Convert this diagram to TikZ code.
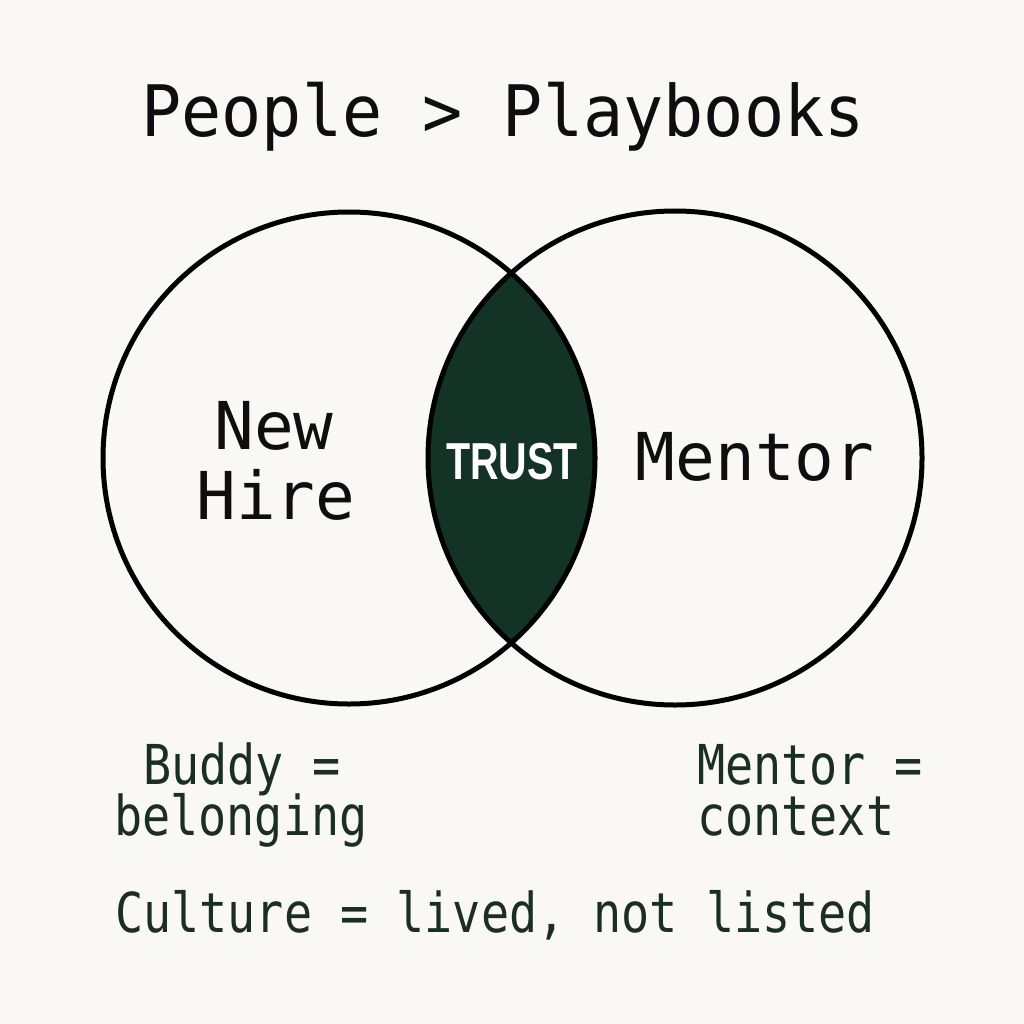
\documentclass[tikz,border=0pt]{standalone}
\usepackage{fontspec}
\newfontfamily\monofont{DejaVu Sans Mono}
\newfontfamily\condmono[FakeStretch=0.85]{DejaVu Sans Mono}
\newfontfamily\titlemono[FakeStretch=0.94]{DejaVu Sans Mono}
\newfontfamily\trustfont[FakeStretch=0.76]{Liberation Sans}
\definecolor{bg}{HTML}{F9F8F4}
\definecolor{lens}{HTML}{133326}
\definecolor{note}{HTML}{1B2E25}
\definecolor{ink}{HTML}{0E0E0E}
\tikzset{
  ring/.style={draw=black, line width=5pt},
  titletext/.style={anchor=base, inner sep=0pt, text=ink, font=\titlemono\fontsize{71}{71}\selectfont},
  labeltext/.style={anchor=base, inner sep=0pt, text=ink, font=\monofont\fontsize{66}{66}\selectfont},
  trusttext/.style={anchor=base, inner sep=0pt, text=white, font=\trustfont\bfseries\fontsize{52}{52}\selectfont},
  notetext/.style={anchor=base west, inner sep=0pt, text=note, font=\condmono\fontsize{55}{55}\selectfont},
}
\begin{document}
\begin{tikzpicture}[x=1pt,y=-1pt]
\fill[bg] (0,0) rectangle (1024,1024);
\useasboundingbox (0,0) rectangle (1024,1024);
\coordinate (L) at (349,458);
\coordinate (R) at (675,458);
\begin{scope}
  \clip (L) circle [radius=246pt];
  \fill[lens] (R) circle [radius=247pt];
\end{scope}
\draw[ring] (L) circle [radius=246pt];
\draw[ring] (R) circle [radius=247pt];
\node[titletext] (title) at (503,137) {People > Playbooks};
\node[labeltext] (new) at (274,449) {New};
\node[labeltext] (hire) at (276,519) {Hire};
\node[labeltext] (mentor) at (755,480) {Mentor};
\node[trusttext] (trust) at (512,479) {TRUST};
\node[notetext] (buddy) at (143,784) {Buddy =};
\node[notetext] (belong) at (114,835) {belonging};
\node[notetext] (mentoreq) at (697,784) {Mentor =};
\node[notetext] (context) at (697,835) {context};
\node[notetext] (culture) at (115,932) {Culture = lived, not listed};
\end{tikzpicture}
\end{document}
